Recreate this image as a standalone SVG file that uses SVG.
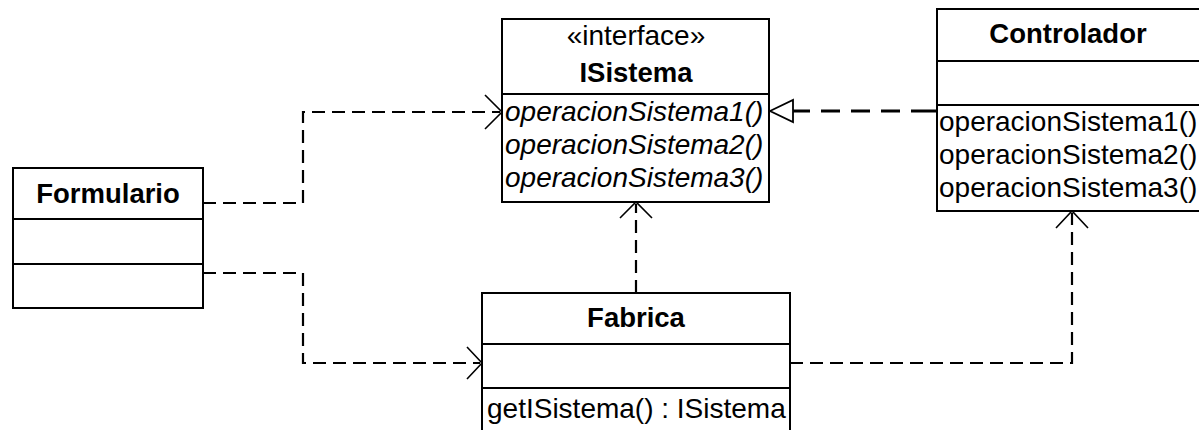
<svg xmlns="http://www.w3.org/2000/svg" width="1199" height="430" viewBox="0 0 1199 430">
<style>
.box{fill:#fff;stroke:#000;stroke-width:2}
.sep{stroke:#000;stroke-width:2}
text{font-family:"Liberation Sans",Arial,sans-serif;font-size:28px;fill:#000}
.t{font-weight:bold;text-anchor:middle;font-size:27.5px}
.c{text-anchor:middle}
.i{font-style:italic}
.dep{fill:none;stroke:#000;stroke-width:2.2;stroke-dasharray:13 7}
.real{fill:none;stroke:#000;stroke-width:3;stroke-dasharray:19 11}
.open{fill:none;stroke:#000;stroke-width:1.6}
.tri{fill:#fff;stroke:#000;stroke-width:1.8}
</style>
<g id="connectors">
<path class="dep" d="M203 203 H303 V112 H500"/>
<polyline class="open" points="485,95 502,112 485,129"/>
<path class="dep" d="M203 273 H303 V363 H480"/>
<polyline class="open" points="467,347 482,363 467,379"/>
<path class="dep" d="M636 293 V204"/>
<polyline class="open" points="620,218 636,202 652,218"/>
<path class="dep" d="M790 363 H1072 V213"/>
<polyline class="open" points="1056,228 1072,211 1088,228"/>
<path class="real" d="M930 111 H793"/>
<line x1="930" y1="111" x2="937" y2="111" stroke="#000" stroke-width="3"/>
<polygon class="tri" points="770,111 793,100 793,122"/>
</g>
<g id="ISistema">
<rect class="box" x="502" y="19" width="267" height="183"/>
<line class="sep" x1="502" y1="94" x2="769" y2="94"/>
<text class="c" x="636" y="45">«interface»</text>
<text class="t" x="636" y="82">ISistema</text>
<text class="i" x="505" y="121">operacionSistema1()</text>
<text class="i" x="505" y="154">operacionSistema2()</text>
<text class="i" x="505" y="187">operacionSistema3()</text>
</g>
<g id="Controlador">
<rect class="box" x="937" y="9" width="270" height="202"/>
<line class="sep" x1="937" y1="61" x2="1207" y2="61"/>
<line class="sep" x1="937" y1="105" x2="1207" y2="105"/>
<text class="t" x="1068" y="43">Controlador</text>
<text x="939" y="131">operacionSistema1()</text>
<text x="939" y="164">operacionSistema2()</text>
<text x="939" y="197">operacionSistema3()</text>
</g>
<g id="Formulario">
<rect class="box" x="13" y="168" width="190" height="140"/>
<line class="sep" x1="13" y1="219" x2="203" y2="219"/>
<line class="sep" x1="13" y1="264" x2="203" y2="264"/>
<text class="t" x="108" y="203">Formulario</text>
</g>
<g id="Fabrica">
<rect class="box" x="482" y="293" width="308" height="150"/>
<line class="sep" x1="482" y1="344" x2="790" y2="344"/>
<line class="sep" x1="482" y1="388" x2="790" y2="388"/>
<text class="t" x="636" y="327">Fabrica</text>
<text x="487" y="418">getISistema() : ISistema</text>
</g>
</svg>
